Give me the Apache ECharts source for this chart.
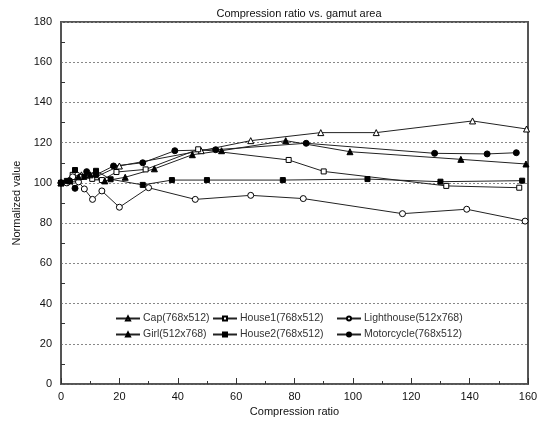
<!DOCTYPE html>
<html>
<head>
<meta charset="utf-8">
<script src="https://cdn.jsdelivr.net/npm/echarts@6/dist/echarts.min.js"></script>
<style>
  html, body { margin: 0; padding: 0; background: #fff; }
  #chart { width: 547px; height: 423px; }
</style>
</head>
<body>
<div id="chart"></div>
<script>
// values: [compression ratio, normalized value]
var cap = [[0,100],[4,102],[7,104],[12,103],[20,108.4],[48,116],[65,121],[89,125],[108,125],[141,130.8],[159.5,126.8]];
var house1 = [[0,100],[4,104],[7,103],[10.7,102],[14,101.4],[19,105.4],[29,106.7],[47,116.7],[78,111.4],[90,105.7],[132,98.5],[157,97.6]];
var lighthouse = [[0,100],[2,100],[4,103],[6,100.5],[8,97],[10.8,91.8],[14,96],[20,87.9],[30,97.6],[46,91.8],[65,93.8],[83,92.2],[117,84.7],[139,86.9],[159,81]];
var girl = [[0,100],[3,101],[6,103],[10,104],[15,101],[22,102.8],[32,107],[45,114],[55,116],[77,121],[99,115.5],[137,111.7],[159.3,109.4]];
var house2 = [[0,100],[2,101],[4.8,106.4],[8,103],[12,106],[17,101.8],[28,99],[38,101.4],[50,101.4],[76,101.4],[105,101.9],[130,100.6],[158,101.1]];
var motorcycle = [[0,100],[3,101],[4.8,97.3],[8.8,105.6],[12,104],[18,108.4],[28,110],[39,116],[53,116.5],[84,119.7],[128,114.7],[146,114.4],[156,115]];

var names = ['Cap(768x512)', 'House1(768x512)', 'Lighthouse(512x768)', 'Girl(512x768)', 'House2(768x512)', 'Motorcycle(768x512)'];
var symbols = ['triangle', 'rect', 'circle', 'triangle', 'rect', 'circle'];
var filled = [false, false, false, true, true, true];
var values = [cap, house1, lighthouse, girl, house2, motorcycle];

var lineColor = '#222';
var font = 'Liberation Sans, Arial, sans-serif';

var series = values.map(function (d, i) {
    return {
        name: names[i],
        type: 'line',
        data: d,
        symbol: symbols[i],
        symbolSize: symbols[i] == 'rect' ? 5 : 6,
        showAllSymbol: true,
        lineStyle: {color: lineColor, width: 1},
        itemStyle: {
            color: filled[i] ? '#000' : '#fff',
            borderColor: '#000',
            borderWidth: 1
        },
        emphasis: {disabled: true}
    };
});

function legendCol(left, items) {
    return {
        orient: 'vertical',
        left: left,
        top: 313,
        itemWidth: 24,
        itemHeight: 5,
        itemGap: 5,
        padding: 0,
        data: items,
        textStyle: {fontFamily: font, fontSize: 10.5, color: '#333', padding: [0, 0, 0, -2]}
    };
}

var option = {
    animation: false,
    title: {
        text: 'Compression ratio vs. gamut area',
        left: 294,
        textAlign: 'center',
        top: 3,
        textStyle: {fontFamily: font, fontSize: 11, fontWeight: 'normal', color: '#111'}
    },
    legend: [
        legendCol(115, [names[0], names[3]]),
        legendCol(212, [names[1], names[4]]),
        legendCol(336, [names[2], names[5]])
    ],
    grid: {
        left: 61,
        right: 19,
        top: 22,
        bottom: 39,
        show: true,
        borderColor: '#555',
        borderWidth: 2,
        backgroundColor: 'transparent'
    },
    xAxis: {
        type: 'value',
        min: 0,
        max: 160,
        interval: 20,
        name: 'Compression ratio',
        nameLocation: 'middle',
        nameGap: 22,
        nameTextStyle: {fontFamily: font, fontSize: 11, color: '#111'},
        axisLine: {lineStyle: {color: '#555', width: 1.5}},
        axisTick: {inside: true, length: 6, lineStyle: {color: '#333'}},
        minorTick: {show: true, splitNumber: 2, length: 3, lineStyle: {color: '#333'}},
        axisLabel: {fontFamily: font, fontSize: 11, color: '#111', margin: 7},
        splitLine: {show: false}
    },
    yAxis: {
        type: 'value',
        min: 0,
        max: 180,
        interval: 20,
        name: 'Normalized value',
        nameLocation: 'middle',
        nameGap: 38,
        nameTextStyle: {fontFamily: font, fontSize: 11, color: '#111'},
        axisLine: {show: true, lineStyle: {color: '#555', width: 1.5}},
        axisTick: {show: true, inside: true, length: 0.01, lineStyle: {color: '#333'}},
        minorTick: {show: true, splitNumber: 2, length: 4, lineStyle: {color: '#333'}},
        axisLabel: {fontFamily: font, fontSize: 11, color: '#111', margin: 9},
        splitLine: {show: true, lineStyle: {color: '#888', type: [2, 2], width: 1}}
    },
    series: series
};

var chart = echarts.init(document.getElementById('chart'));
chart.setOption(option);
window.onresize = function () {
    chart.resize();
};
</script>
</body>
</html>
